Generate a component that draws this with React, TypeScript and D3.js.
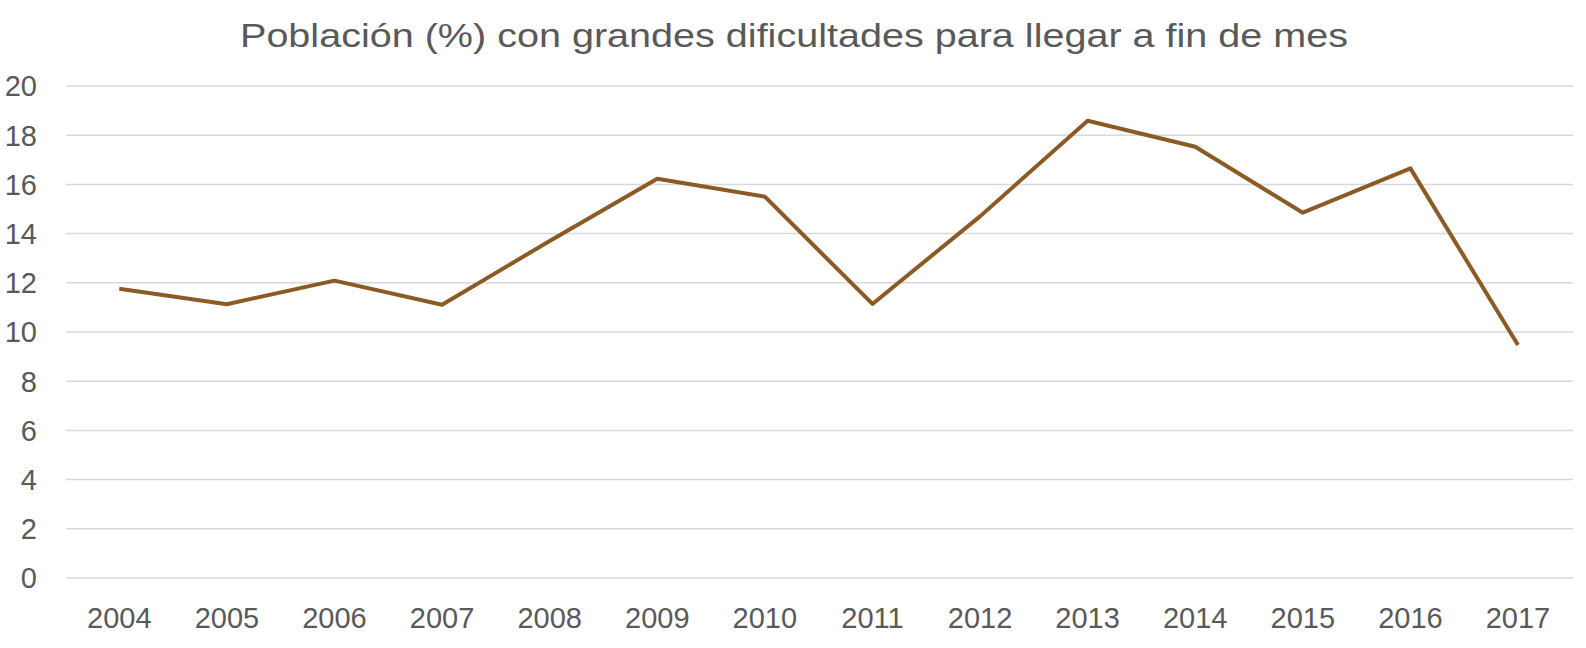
import { useEffect, useRef } from "react";
import * as d3 from "d3";

const years = [
  "2004", "2005", "2006", "2007", "2008", "2009", "2010",
  "2011", "2012", "2013", "2014", "2015", "2016", "2017",
];
const values = [
  11.76, 11.13, 12.09, 11.11, 13.7, 16.23, 15.5,
  11.14, 14.7, 18.59, 17.53, 14.85, 16.65, 9.47,
];
const yTicks = [0, 2, 4, 6, 8, 10, 12, 14, 16, 18, 20];
const title = "Población (%) con grandes dificultades para llegar a fin de mes";

const W = 1586;
const H = 648;
const FONT = "'Liberation Sans', Arial, sans-serif";
const TEXT = "#595959";

export default function App() {
  const svgRef = useRef<SVGSVGElement>(null);

  useEffect(() => {
    const svg = d3.select(svgRef.current!);
    svg.selectAll("*").remove();

    const x = d3.scalePoint<string>().domain(years).range([119.3, 1518]);
    const y = d3.scaleLinear().domain([0, 20]).range([578, 86]);
    const left = 66;
    const right = 1573;

    // gridlines
    svg
      .append("g")
      .selectAll("line")
      .data(yTicks)
      .join("line")
      .attr("x1", left)
      .attr("x2", right)
      .attr("y1", (d) => y(d))
      .attr("y2", (d) => y(d))
      .attr("stroke", "#d9d9d9")
      .attr("stroke-width", 1.5);

    // y labels
    svg
      .append("g")
      .selectAll("text")
      .data(yTicks)
      .join("text")
      .attr("x", 37)
      .attr("y", (d) => y(d))
      .attr("dy", "0.36em")
      .attr("text-anchor", "end")
      .attr("font-family", FONT)
      .attr("font-size", 29)
      .attr("fill", TEXT)
      .text((d) => d);

    // x labels
    svg
      .append("g")
      .selectAll("text")
      .data(years)
      .join("text")
      .attr("x", (d) => x(d)!)
      .attr("y", 628)
      .attr("text-anchor", "middle")
      .attr("font-family", FONT)
      .attr("font-size", 29)
      .attr("fill", TEXT)
      .text((d) => d);

    // line
    const line = d3
      .line<number>()
      .x((_, i) => x(years[i])!)
      .y((d) => y(d));

    svg
      .append("path")
      .datum(values)
      .attr("d", line)
      .attr("fill", "none")
      .attr("stroke", "#8c5a24")
      .attr("stroke-width", 4)
      .attr("stroke-linejoin", "round");

    // title
    svg
      .append("text")
      .attr("x", 794)
      .attr("y", 47)
      .attr("text-anchor", "middle")
      .attr("font-family", FONT)
      .attr("font-size", 34)
      .attr("fill", TEXT)
      .attr("textLength", 1108)
      .attr("lengthAdjust", "spacingAndGlyphs")
      .text(title);
  }, []);

  return (
    <svg
      ref={svgRef}
      width={W}
      height={H}
      style={{ position: "absolute", left: 0, top: 0, background: "#fff" }}
    />
  );
}
